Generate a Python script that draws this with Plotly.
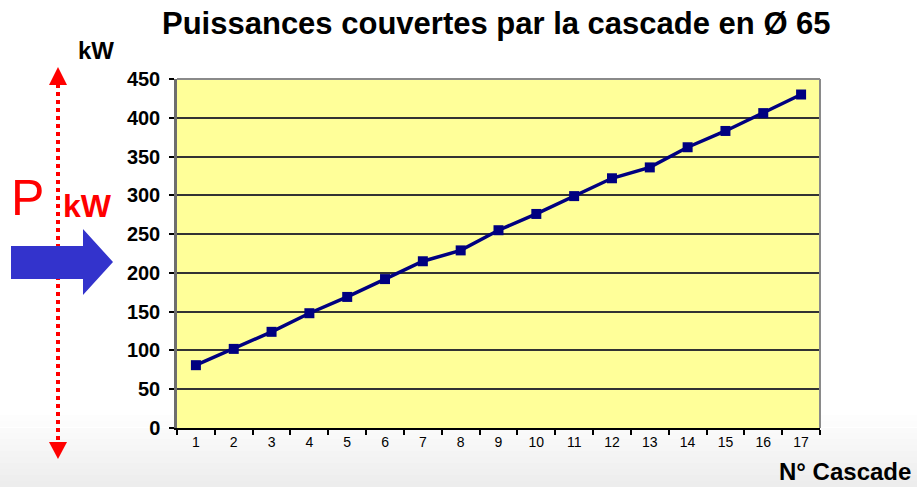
import plotly.graph_objects as go

# Data: power covered by the cascade (Ø 65), per cascade number
cascade_no = [str(i) for i in range(1, 18)]
power_kw = [81, 102, 124, 148, 169, 192, 215, 229, 255, 276, 299, 322, 336, 362, 383, 406, 430]
y_ticks = [0, 50, 100, 150, 200, 250, 300, 350, 400, 450]

W, H = 917, 487
L, R, T, B = 177, 97, 79, 59
PW, PH = W - L - R, H - T - B


def px(x):
    return (x - L) / PW


def py(y):
    return (H - B - y) / PH


def path(points):
    return "M " + " L ".join(f"{px(x):.5f},{py(y):.5f}" for x, y in points) + " Z"


fig = go.Figure()
fig.add_trace(go.Scatter(
    x=cascade_no, y=power_kw, mode="lines+markers",
    line=dict(color="#000080", width=3.5),
    marker=dict(symbol="square", size=10, color="#000080"),
    showlegend=False, hoverinfo="x+y",
))

shapes = []
# soft grey fade along the bottom of the slide (kept outside the plot area)
band_top, band_bot, n = 415, 487, 12
plot_bottom = H - B
for i in range(n):
    y0 = band_top + (band_bot - band_top) * i / n
    y1 = band_top + (band_bot - band_top) * (i + 1) / n
    g = int(255 - 18 * (i + 1) / n)
    col = f"rgb({g},{g},{g})"
    if y1 <= plot_bottom:
        spans = [(0, L), (W - R, W)]
    else:
        spans = [(0, W)]
    for xa, xb in spans:
        ya = max(y0, plot_bottom) if (xa, xb) == (0, W) else y0
        shapes.append(dict(type="rect", xref="paper", yref="paper", layer="below",
                           x0=px(xa), x1=px(xb), y0=py(y1), y1=py(ya),
                           line=dict(width=0), fillcolor=col))

# plot frame (top / right in grey)
shapes.append(dict(type="line", xref="paper", yref="paper", x0=0, x1=1, y0=1, y1=1,
                   line=dict(color="#8a8a8a", width=2)))
shapes.append(dict(type="line", xref="paper", yref="paper", x0=1, x1=1, y0=0, y1=1,
                   line=dict(color="#8a8a8a", width=2)))

# red dotted double arrow on the left
shapes.append(dict(type="line", xref="paper", yref="paper",
                   x0=px(58), x1=px(58), y0=py(84), y1=py(443),
                   line=dict(color="#ff0000", width=4, dash="4px,4px")))
shapes.append(dict(type="path", xref="paper", yref="paper",
                   path=path([(58, 67), (67, 85), (49, 85)]),
                   fillcolor="#ff0000", line=dict(width=0)))
shapes.append(dict(type="path", xref="paper", yref="paper",
                   path=path([(49, 442), (67, 442), (58, 459)]),
                   fillcolor="#ff0000", line=dict(width=0)))
# blue block arrow
shapes.append(dict(type="path", xref="paper", yref="paper",
                   path=path([(11, 246), (83, 246), (83, 229), (113, 262),
                              (83, 295), (83, 279), (11, 279)]),
                   fillcolor="#3333cc", line=dict(width=0)))

annotations = [
    dict(text="<b>Puissances couvertes par la cascade en Ø 65</b>",
         x=px(496), y=py(23), xref="paper", yref="paper", showarrow=False,
         xanchor="center", yanchor="middle",
         font=dict(family="Liberation Sans, Arial", size=31, color="#000000")),
    dict(text="<b>kW</b>", x=px(76), y=py(51), xref="paper", yref="paper",
         showarrow=False, xanchor="left", yanchor="middle",
         font=dict(family="Liberation Sans, Arial", size=24, color="#000000")),
    dict(text="<b>N° Cascade</b>", x=px(912), y=py(486), xref="paper", yref="paper",
         showarrow=False, xanchor="right", yanchor="bottom", borderpad=0,
         font=dict(family="Liberation Sans, Arial", size=24, color="#000000")),
    dict(text="P", x=px(27), y=py(198), xref="paper", yref="paper",
         showarrow=False, xanchor="center", yanchor="middle",
         font=dict(family="Liberation Sans, Arial", size=50, color="#ff0000")),
    dict(text="<b>kW</b>", x=px(61), y=py(206), xref="paper", yref="paper",
         showarrow=False, xanchor="left", yanchor="middle",
         font=dict(family="Liberation Sans, Arial", size=32, color="#ff0000")),
]

fig.update_layout(
    width=W, height=H,
    margin=dict(l=L, r=R, t=T, b=B, pad=0),
    paper_bgcolor="#ffffff",
    plot_bgcolor="#ffff99",
    shapes=shapes,
    annotations=annotations,
    xaxis=dict(
        type="category", tickson="boundaries", ticks="outside", ticklen=5,
        tickcolor="#000000", tickwidth=1.5, showgrid=False, zeroline=False,
        showline=True, linecolor="#000000", linewidth=1.5,
        tickfont=dict(family="Liberation Sans, Arial", size=14, color="#000000"),
        range=[-0.5, 16.5], fixedrange=True,
    ),
    yaxis=dict(
        range=[0, 450], tickvals=y_ticks, ticktext=[f"<b>{v}</b>" for v in y_ticks],
        ticks="outside", ticklen=5, tickcolor="#000000", tickwidth=1.5,
        showgrid=True, gridcolor="#333333", gridwidth=1.5, zeroline=False,
        showline=True, linecolor="#6e6e6e", linewidth=2.5,
        tickfont=dict(family="Liberation Sans, Arial", size=20, color="#000000"),
        ticklabelstandoff=5, fixedrange=True,
    ),
)

fig.write_html("out.html")
